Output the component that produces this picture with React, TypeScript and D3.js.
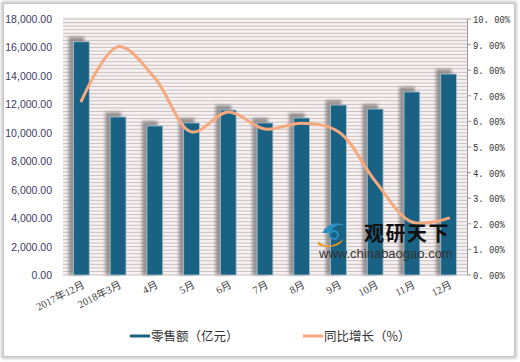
import React from "react";
import * as d3 from "d3";

const categories = ["2017年12月", "2018年3月", "4月", "5月", "6月", "7月", "8月", "9月", "10月", "11月", "12月"];
const retailSales = [16400, 11110, 10480, 10690, 11600, 10690, 11040, 11950, 11670, 12870, 14130];
const growthPct = [6.8, 8.92, 7.7, 5.59, 6.37, 5.7, 5.93, 5.6, 3.67, 2.07, 2.22];
const leftTicks = [0, 2000, 4000, 6000, 8000, 10000, 12000, 14000, 16000, 18000];
const rightTicks = [0, 1, 2, 3, 4, 5, 6, 7, 8, 9, 10];
const seriesNames = ["零售额（亿元）", "同比增长（%）"];

const W = 520, H = 362;
const M = { left: 63, right: 467, top: 19, bottom: 275 };

export default function App() {
  const x = d3.scaleBand<string>().domain(categories).range([M.left, M.right]).paddingInner(0.57).paddingOuter(0.285);
  const yL = d3.scaleLinear().domain([0, 18000]).range([M.bottom, M.top]);
  const yR = d3.scaleLinear().domain([0, 10]).range([M.bottom, M.top]);
  const minor = d3.range(0, 18001, 250);
  const line = d3.line<number>()
    .x((_, i) => (x(categories[i]) as number) + x.bandwidth() / 2)
    .y((d) => yR(d))
    .curve(d3.curveCatmullRom.alpha(0.5));
  const bw = x.bandwidth();
  return (
    <svg width={W} height={H} style={{ position: "absolute", left: 0, top: 0 }}>
      <defs>
        <filter id="blur" x="-50%" y="-50%" width="200%" height="200%">
          <feGaussianBlur stdDeviation="1.6" />
        </filter>
        <filter id="frameShadow" x="-5%" y="-5%" width="110%" height="110%">
          <feGaussianBlur stdDeviation="1.5" />
        </filter>
      </defs>
      <rect x={0} y={0} width={W} height={H} fill="#fff" />
      <rect x={3} y={3} width={512} height={354} fill="none" stroke="#bbb" strokeWidth={3} filter="url(#frameShadow)" />
      <rect x={3.5} y={3.5} width={511} height={353} fill="#fff" stroke="#c8c8c8" strokeWidth={1} />
      {/* plot background */}
      <rect x={M.left} y={M.top - 2} width={M.right - M.left} height={M.bottom - M.top + 2} fill="#f8f1f1" />
      {minor.map((v) => (
        <line key={v} x1={M.left} x2={M.right} y1={yL(v)} y2={yL(v)} stroke="#c9c1c1" strokeWidth={1} />
      ))}
      {/* bar shadows */}
      {retailSales.map((v, i) => (
        <rect key={"s" + i} x={(x(categories[i]) as number) - 5} y={yL(v) - 5} width={bw} height={M.bottom - yL(v) + 5}
          fill="#7d7878" opacity={0.75} filter="url(#blur)" />
      ))}
      {/* bars */}
      {retailSales.map((v, i) => (
        <rect key={"b" + i} x={x(categories[i]) as number} y={yL(v)} width={bw} height={M.bottom - yL(v)}
          fill="#1a6284" stroke="#a9c3cf" strokeWidth={0.8} />
      ))}
      {/* line */}
      <path d={line(growthPct) || ""} fill="none" stroke="#f6a97e" strokeWidth={3} strokeLinecap="round" />
      {/* right axis */}
      <line x1={M.right + 0.5} x2={M.right + 0.5} y1={M.top} y2={M.bottom} stroke="#999" />
      {rightTicks.map((t) => {
        const label = t.toFixed(2).replace(".", ". ") + "%";
        return (
          <g key={"r" + t}>
            <line x1={M.right} x2={M.right + 4} y1={yR(t)} y2={yR(t)} stroke="#999" />
            <text x={M.right + 6} y={yR(t) + 4} fontSize={11} fontFamily="Liberation Mono, monospace" fill="#333"
              textLength={label.length * 5.3} lengthAdjust="spacingAndGlyphs">
              {label}
            </text>
          </g>
        );
      })}
      {/* left axis labels */}
      {leftTicks.map((t) => (
        <text key={"l" + t} x={52} y={yL(t) + 4} fontSize={10.5} textAnchor="end" fontFamily="Liberation Sans, Arial, sans-serif" fill="#3d3a63">
          {d3.format(",.2f")(t)}
        </text>
      ))}
      {/* x labels */}
      {categories.map((c) => {
        const cx = (x(c) as number) + bw / 2 + 4;
        return (
          <text key={"x" + c} transform={`translate(${cx},${M.bottom + 12}) rotate(-27)`} textAnchor="end" fontSize={10.5}
            fontFamily="Liberation Serif, Noto Sans CJK SC, serif" fill="#444">
            {c}
          </text>
        );
      })}
      {/* watermark */}
      <g>
        <path d="M322,233 q8,-14 24,-8 q-12,-2 -16,8 z" fill="#2a8fc0" />
        <path d="M318,241 q10,10 26,-2 q-8,12 -26,6 z" fill="#f39a1e" />
        <circle cx={334} cy={235} r={4} fill="none" stroke="#2a8fc0" strokeWidth={2} />
        <text x={364} y={241} fontSize={20} fontWeight="bold" fontFamily="Noto Sans CJK SC, sans-serif" fill="#111" letterSpacing={1.5}>观研天下</text>
        <text x={319} y={258} fontSize={13} fontFamily="Liberation Sans, Arial, sans-serif" fill="#333">www.chinabaogao.com</text>
      </g>
      {/* legend */}
      <line x1={130} x2={150} y1={336} y2={336} stroke="#1a6284" strokeWidth={3} />
      <text x={151} y={340.5} fontSize={12.5} fontFamily="Noto Sans CJK SC, sans-serif" fill="#333">{seriesNames[0]}</text>
      <line x1={303} x2={323} y1={336} y2={336} stroke="#f6a97e" strokeWidth={3} />
      <text x={324} y={340.5} fontSize={12.5} fontFamily="Noto Sans CJK SC, sans-serif" fill="#333">{seriesNames[1]}</text>
    </svg>
  );
}
